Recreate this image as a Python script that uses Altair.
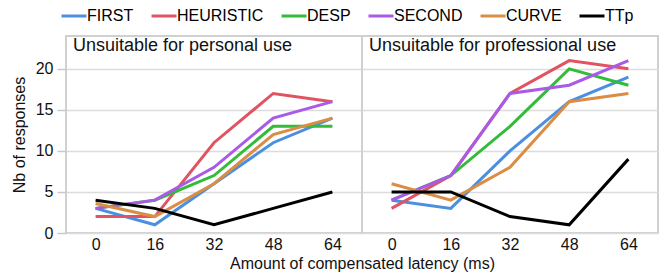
import altair as alt
import pandas as pd

methods = ["FIRST", "HEURISTIC", "DESP", "SECOND", "CURVE", "TTp"]
colors = ["#4a8fe0", "#e05462", "#33bb3a", "#a95ae6", "#d98d45", "#000000"]
latencies = [0, 16, 32, 48, 64]
panels = ["Unsuitable for personal use", "Unsuitable for professional use"]

personal = {
    "FIRST":     [3, 1, 6, 11, 14],
    "HEURISTIC": [2, 2, 11, 17, 16],
    "DESP":      [3, 4, 7, 13, 13],
    "SECOND":    [3, 4, 8, 14, 16],
    "CURVE":     [3.6, 2, 6, 12, 14],
    "TTp":       [4, 3, 1, 3, 5],
}
professional = {
    "FIRST":     [4, 3, 10, 16, 19],
    "HEURISTIC": [3, 7, 17, 21, 20],
    "DESP":      [4, 7, 13, 20, 18],
    "SECOND":    [4, 7, 17, 18, 21],
    "CURVE":     [6, 4, 8, 16, 17],
    "TTp":       [5, 5, 2, 1, 9],
}

FONT = "Liberation Sans"


def make_df(d):
    rows = []
    for m in methods:
        for lat, v in zip(latencies, d[m]):
            rows.append({"method": m, "latency": lat, "value": v, "order": methods.index(m)})
    return pd.DataFrame(rows)


def panel(title, data, left):
    df = make_df(data)
    if left:
        xaxis = alt.Axis(labelAngle=0, title="Amount of compensated latency (ms)",
                         titleX=296, titleAlign="center", ticks=False, titlePadding=3)
        yaxis = alt.Axis(values=[0, 5, 10, 15, 20], title="Nb of responses",
                         tickSize=9, tickColor="#c8c8c8", tickWidth=1.5,
                         labelPadding=4, titlePadding=8)
    else:
        xaxis = alt.Axis(labelAngle=0, title=None, ticks=False)
        yaxis = alt.Axis(values=[0, 5, 10, 15, 20], title=None, labels=False, ticks=False)
    lines = alt.Chart(df).mark_line(strokeWidth=3).encode(
        x=alt.X("latency:O", scale=alt.Scale(type="point", padding=0.5), axis=xaxis),
        y=alt.Y("value:Q", scale=alt.Scale(domain=[0, 24]), axis=yaxis),
        color=alt.Color("method:N", scale=alt.Scale(domain=methods, range=colors),
                        legend=alt.Legend(title=None, orient="top", direction="horizontal",
                                          symbolType="M-2,0H2", symbolSize=156,
                                          symbolStrokeWidth=3, labelFontSize=16,
                                          labelFont=FONT, columnPadding=11,
                                          labelOffset=5, offset=11, padding=0)),
        order=alt.Order("order:Q"),
        detail="method:N",
    )
    txt = alt.Chart(pd.DataFrame({"t": [title]})).mark_text(
        align="left", baseline="alphabetic", fontSize=18, font=FONT, color="#111"
    ).encode(x=alt.value(7), y=alt.value(15), text="t:N")
    return alt.layer(lines, txt).properties(width=296, height=197)


chart = alt.hconcat(
    panel(panels[0], personal, True),
    panel(panels[1], professional, False),
    spacing=0,
    bounds="flush",
).properties(padding={"left": 2, "top": 0, "right": 0, "bottom": 0}).configure_view(
    stroke="#d0d0d0", strokeWidth=2
).configure_axis(
    domain=False, gridColor="#dcdcdc", gridWidth=1.5, labelFont=FONT, titleFont=FONT,
    labelFontSize=16, titleFontSize=16, labelColor="#111", titleColor="#111",
    titleFontWeight="normal", labelPadding=3
)

chart.save("out.html", embed_options={"renderer": "svg", "actions": False})
